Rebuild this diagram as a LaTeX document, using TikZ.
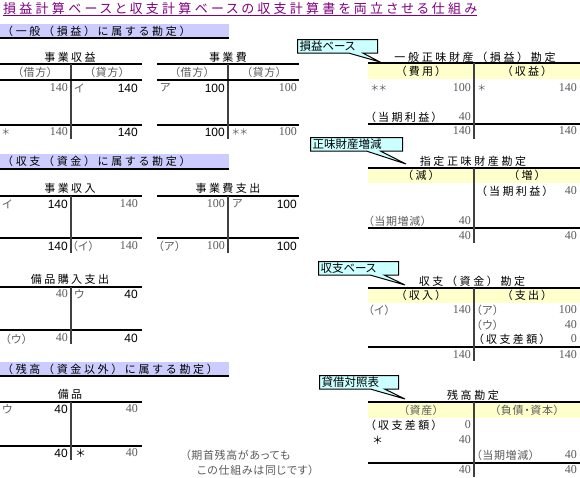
\documentclass[tikz,border=0pt]{standalone}
\usepackage{fontspec}
\setmainfont{Liberation Serif}
\newfontfamily\jpgo[RawFeature=+palt,LetterSpace=22]{Noto Sans CJK JP}
\newfontfamily\jpwide[LetterSpace=24]{Noto Sans CJK JP}
\newfontfamily\jpmi[RawFeature=+palt,LetterSpace=6]{Noto Sans CJK JP}
\newfontfamily\jpcall[RawFeature=+palt]{Noto Sans CJK JP}
\newfontfamily\numsf{Liberation Sans}
\usetikzlibrary{shapes.callouts}
\definecolor{titlepurple}{HTML}{800080}
\definecolor{barblue}{HTML}{CCCCFF}
\definecolor{headyellow}{HTML}{FFFFCC}
\definecolor{callcyan}{HTML}{CCFFFF}
\definecolor{numgray}{HTML}{5A5A5A}
\tikzset{
  gt/.style={font=\jpgo\fontsize{11}{13}\selectfont, inner sep=0pt},
  gwide/.style={font=\jpwide\fontsize{11}{13}\selectfont, inner sep=0pt},
  mc/.style={font=\jpmi\fontsize{11}{13}\selectfont, text=numgray, inner sep=0pt},
  bn/.style={font=\numsf\fontsize{12}{14}\selectfont, anchor=east, inner sep=0pt},
  gn/.style={font=\rmfamily\fontsize{12}{14}\selectfont, text=numgray, anchor=east, inner sep=0pt},
  callbox/.style={rectangle callout, draw=black, line width=1pt, fill=callcyan,
    callout pointer width=14pt, font=\jpcall\fontsize{11.5}{13}\selectfont,
    inner xsep=2pt, inner ysep=1.5pt, align=left, anchor=north west},
  tline/.style={line width=1.2pt},
  vline/.style={line width=1.2pt, black!75},
}
\begin{document}
\begin{tikzpicture}[x=1pt,y=-1pt]
    \useasboundingbox (0,0) rectangle (580,477);
    \node[gt, anchor=west, text=titlepurple, font=\jpgo\fontsize{13}{15}\selectfont\addfontfeature{LetterSpace=25}] (ttl) at (3,9)
        {損益計算ベースと収支計算ベースの収支計算書を両立させる仕組み};
    \draw[titlepurple, line width=1pt] ([yshift=-0.5pt]ttl.south west) -- ([yshift=-0.5pt]ttl.south east);
    \foreach \t/\b in {24/38,154/169,362/376} {
        \fill[barblue] (0,\t) rectangle (229,\b);
        \draw[line width=1.5pt] (0,\b) -- (229,\b);
    }
    \foreach \y/\s [count=\i] in {31/（一般（損益）に属する勘定）,161/（収支（資金）に属する勘定）,369/（残高（資金以外）に属する勘定）} {
        \node[gwide, anchor=west] (sec\i) at (2,\y) {\s};
    }
    \foreach \x/\t/\b/\e in {0/64/125/139,157/64/125/139,0/196/238/253,157/196/238/253,0/287/330/344,0/402/446/460} {
        \draw[tline] (\x,\t) -- ++(142,0) (\x,\b) -- ++(142,0);
        \draw[vline] (\x+71,\t) -- (\x+71,\e);
    }
    \draw[tline] (0,80) -- (142,80) (157,80) -- (299,80);
    \foreach \t/\h/\b/\e in {63/79/124/139,168/183/228/243,288/303/347/361,402/418/463/477} {
        \fill[headyellow] (368,\t) rectangle (580,\h);
        \draw[tline] (368,\t) -- (580,\t) (368,\b) -- (580,\b);
        \draw[vline] (474,\t) -- (474,\e);
    }
    \foreach \x/\y/\s [count=\i] in {70/57/事業収益,228/57/事業費,70/188/事業収入,228/188/事業費支出,70/279/備品購入支出,70/394/備品,
        421/71/（費用）,527/71/（収益）,421/175/（減）,527/175/（増）,421/295/（収入）,527/295/（支出）} {
        \node[gt] (ac\i) at (\x,\y) {\s};
    }
    \foreach \x/\y/\s [count=\i] in {475/57/一般正味財産（損益）勘定,473/161/指定正味財産勘定,472/281/収支（資金）勘定,473/395/残高勘定} {
        \node[gwide] (rt\i) at (\x,\y) {\s};
    }
    \foreach \x/\y/\s [count=\i] in {370/117/（当期利益）,481/191/（当期利益）,478/339/（収支差額）,370/425/（収支差額）,76/453/＊,373/440/＊} {
        \node[gt, anchor=west] (gw\i) at (\x,\y) {\s};
    }
    \foreach \x/\y/\s [count=\i] in {35/72/（借方）,107/72/（貸方）,192/72/（借方）,264/72/（貸方）,421/410/（資産）,527/410/（負債・資本）} {
        \node[mc] (mh\i) at (\x,\y) {\s};
    }
    \foreach \x/\y/\s [count=\i] in {74/88/イ,160/88/ア,2/204/イ,72/246/（イ）,232/204/ア,158/246/（ア）,74/294/ウ,5/339/（ウ）,2/409/ウ,
        368/221/（当期増減）,368/310/（イ）,476/310/（ア）,476/325/（ウ）,476/455/（当期増減）,
        185/455/（期首残高があっても,197/470/この仕組みは同じです）} {
        \node[mc, anchor=west] (mw\i) at (\x,\y) {\s};
    }
    \foreach \x/\y/\s [count=\i] in {2/132/＊,232/132/＊＊,371/88/＊＊,478/88/＊} {
        \node[mc, anchor=west, font=\jpmi\fontsize{9}{11}\selectfont] (ast\i) at (\x,\y) {\s};
    }
    \foreach \x/\y/\v [count=\i] in {68/88/140,68/132/140,297/88/100,297/132/100,138/204/140,138/246/140,225/204/100,225/246/100,
        68/294/40,68/338/40,138/409/40,138/453/40,471/88/100,577/88/140,471/117/40,471/131/140,577/131/140,
        577/191/40,471/221/40,471/236/40,577/236/40,471/310/140,577/310/100,577/325/40,577/339/0,471/355/140,577/355/140,
        471/425/0,471/440/40,577/455/40,471/470/40,577/470/40} {
        \node[gn] (gn\i) at (\x,\y) {\v};
    }
    \foreach \x/\y/\v [count=\i] in {138/88/140,138/132/140,225/88/100,225/132/100,68/204/140,68/246/140,297/204/100,297/246/100,
        138/294/40,138/338/40,68/409/40,68/453/40} {
        \node[bn] (bn\i) at (\x,\y) {\v};
    }
    \coordinate (tip1) at (380,62);
    \coordinate (tip2) at (406,164);
    \coordinate (tip3) at (405,285);
    \coordinate (tip4) at (405,399);
    \node[callbox, text width=76pt, callout absolute pointer={(tip1)}] (cb1) at (297,39) {損益ベース};
    \node[callbox, text width=88pt, callout absolute pointer={(tip2)}] (cb2) at (310,137) {正味財産増減};
    \node[callbox, text width=76pt, callout absolute pointer={(tip3)}] (cb3) at (318,261) {収支ベース};
    \node[callbox, text width=75pt, callout absolute pointer={(tip4)}] (cb4) at (319,375) {貸借対照表};
\end{tikzpicture}
\end{document}
